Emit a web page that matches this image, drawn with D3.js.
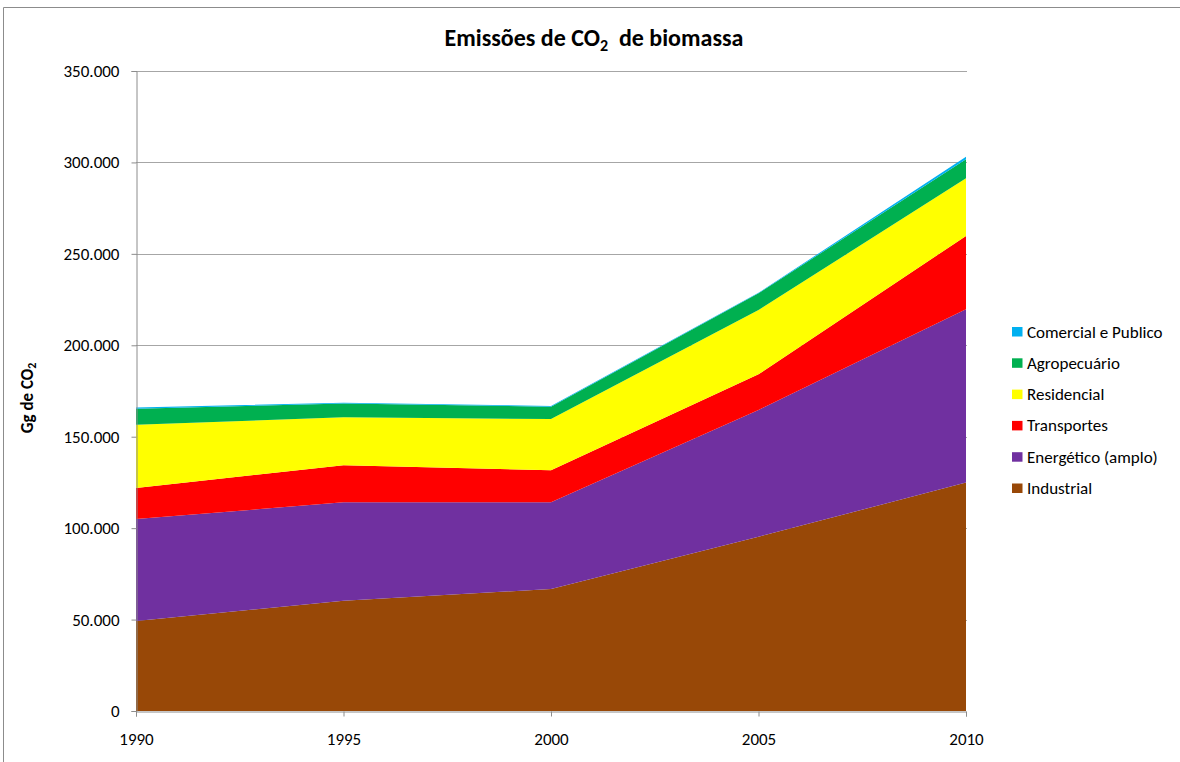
<!DOCTYPE html>
<html>
<head>
<meta charset="utf-8">
<script src="https://cdn.jsdelivr.net/npm/d3@7"></script>
<style>
  html, body { margin: 0; padding: 0; background: #fff; }
  svg { display: block; font-family: Carlito, Lato, "Liberation Sans", sans-serif; }
</style>
</head>
<body>
<svg id="chart" width="1180" height="762"></svg>
<script>
// Years on the horizontal axis
const years = [1990, 1995, 2000, 2005, 2010];

// Emissions per sector (Gg CO2), stacked bottom to top
const industrial   = [49200, 60300, 66700, 95300, 124900];
const energetico   = [55800, 53800, 47400, 69300, 94800];
const transportes  = [17000, 20300, 17500, 19500, 40100];
const residencial  = [34600, 26200, 28100, 35200, 31500];
const agropecuario = [8700, 7500, 6700, 9100, 10400];
const comercial    = [700, 500, 400, 300, 1400];

const seriesNames = ["Industrial", "Energético (amplo)", "Transportes", "Residencial", "Agropecuário", "Comercial e Publico"];
const seriesValues = [industrial, energetico, transportes, residencial, agropecuario, comercial];
const seriesColors = ["#984807", "#7030A0", "#FF0000", "#FFFF00", "#00B050", "#00B0F0"];

const yTicks = [0, 50000, 100000, 150000, 200000, 250000, 300000, 350000];

const fmt = v => v === 0 ? "0" : d3.format(",")(v).replace(/,/g, ".");
const FONT = "Carlito, Lato, sans-serif";

const svg = d3.select("#chart");

// Outer chart frame
svg.append("path")
  .attr("d", "M3.5,762 V7.5 H1180")
  .attr("fill", "none").attr("stroke", "#8c8c8c").attr("stroke-width", 1);

const plot = { left: 136, right: 966, top: 71, bottom: 711 };

const x = d3.scaleLinear().domain([1990, 2010]).range([plot.left, plot.right]);
const y = d3.scaleLinear().domain([0, 350000]).range([plot.bottom, plot.top]);

// Horizontal gridlines
svg.append("g")
  .selectAll("line")
  .data(yTicks.filter(d => d > 0))
  .join("line")
  .attr("x1", plot.left).attr("x2", plot.right + 1)
  .attr("y1", d => Math.round(y(d)) + 0.5).attr("y2", d => Math.round(y(d)) + 0.5)
  .attr("stroke", "#a6a6a6").attr("stroke-width", 1);

// Stacked areas
const table = years.map((yr, i) => {
  const row = { year: yr };
  seriesNames.forEach((n, k) => row[n] = seriesValues[k][i]);
  return row;
});
const layers = d3.stack().keys(seriesNames)(table);

const area = d3.area()
  .x(d => x(d.data.year))
  .y0(d => y(d[0]))
  .y1(d => y(d[1]));

svg.append("g")
  .selectAll("path")
  .data(layers)
  .join("path")
  .attr("d", area)
  .attr("fill", (d, i) => seriesColors[i]);

// Y axis
const yAxis = d3.axisLeft(y).tickValues(yTicks).tickFormat(fmt).tickSize(5).tickPadding(12);
const gy = svg.append("g").attr("transform", `translate(${plot.left + 0.5},0)`).call(yAxis);
gy.select(".domain").attr("stroke", "#8c8c8c");
gy.selectAll(".tick line").attr("stroke", "#8c8c8c");
gy.selectAll(".tick text").attr("font-size", 17).attr("fill", "#000").attr("font-family", FONT);

// X axis
const xAxis = d3.axisBottom(x).tickValues(years).tickFormat(d3.format("d")).tickSize(5).tickPadding(16);
const gx = svg.append("g").attr("transform", `translate(0,${plot.bottom + 0.5})`).call(xAxis);
gx.select(".domain").attr("stroke", "#8c8c8c");
gx.selectAll(".tick line").attr("stroke", "#8c8c8c");
gx.selectAll(".tick text").attr("font-size", 17).attr("fill", "#000").attr("font-family", FONT);

// Title
const title = svg.append("text")
  .attr("x", 594).attr("y", 46)
  .attr("text-anchor", "middle")
  .attr("font-size", 24).attr("font-weight", "bold")
  .attr("xml:space", "preserve");
title.append("tspan").text("Emissões de CO");
title.append("tspan").attr("font-size", 16).attr("dy", 5).text("2");
title.append("tspan").attr("dy", -5).text("  de biomassa");

// Y axis title
const yTitle = svg.append("text")
  .attr("transform", "translate(33,398) rotate(-90)")
  .attr("text-anchor", "middle")
  .attr("font-size", 17).attr("font-weight", "bold");
yTitle.append("tspan").text("Gg de CO");
yTitle.append("tspan").attr("font-size", 12).attr("dy", 3).text("2");

// Legend (top entry is the top layer)
const legendOrder = d3.range(seriesNames.length).reverse();
const legend = svg.append("g")
  .selectAll("g")
  .data(legendOrder)
  .join("g")
  .attr("transform", (d, i) => `translate(1012,${331.5 + i * 31.3})`);
legend.append("rect")
  .attr("x", 0).attr("y", -4.5).attr("width", 10.5).attr("height", 9.5)
  .attr("fill", d => seriesColors[d]);
legend.append("text")
  .attr("x", 15).attr("y", 6)
  .attr("font-size", 17)
  .text(d => seriesNames[d]);
</script>
</body>
</html>
